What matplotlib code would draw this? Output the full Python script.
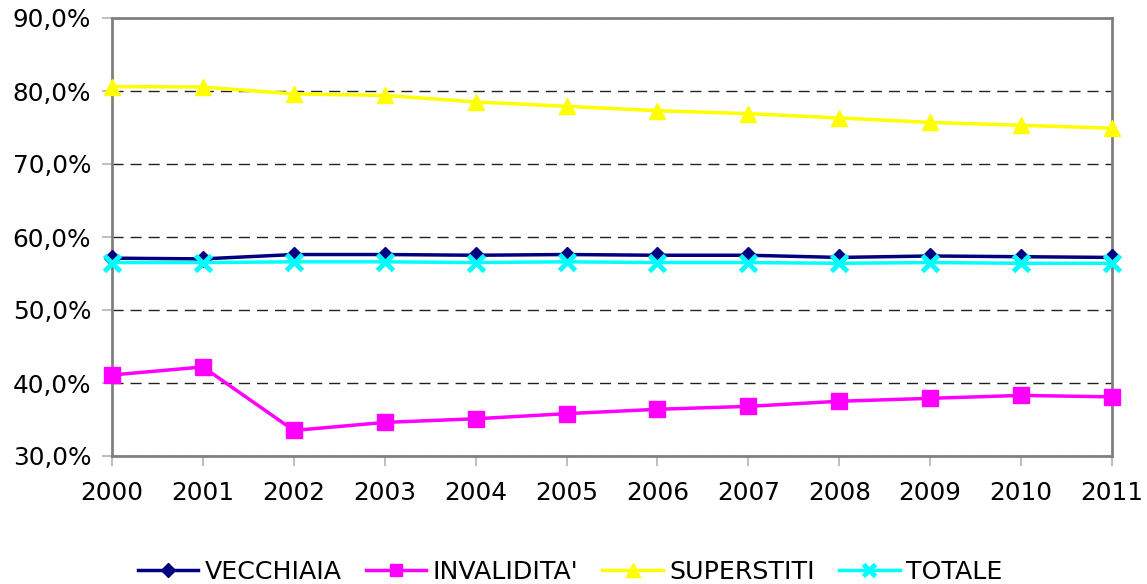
import matplotlib
matplotlib.use("Agg")
import matplotlib.pyplot as plt
from matplotlib.ticker import FuncFormatter, MultipleLocator

years = [2000, 2001, 2002, 2003, 2004, 2005, 2006, 2007, 2008, 2009, 2010, 2011]
vecchiaia = [57.1, 57.0, 57.6, 57.6, 57.5, 57.6, 57.5, 57.5, 57.2, 57.4, 57.3, 57.2]
invalidita = [41.1, 42.2, 33.5, 34.6, 35.1, 35.8, 36.4, 36.8, 37.5, 37.9, 38.3, 38.1]
superstiti = [80.6, 80.55, 79.6, 79.4, 78.5, 77.9, 77.3, 76.9, 76.3, 75.7, 75.3, 74.9]
totale = [56.5, 56.5, 56.6, 56.6, 56.5, 56.6, 56.5, 56.5, 56.4, 56.5, 56.4, 56.4]
labels = ["VECCHIAIA", "INVALIDITA'", "SUPERSTITI", "TOTALE"]

plt.rcParams['font.family'] = ['DejaVu Sans']
fig = plt.figure(figsize=(11.47, 5.84), dpi=100)
ax = fig.add_axes([112/1147, 1 - 456/584, 1000/1147, 438/584])

ax.plot(years, vecchiaia, color='#000080', lw=2.5, marker='D', ms=8.5, label=labels[0], clip_on=False, zorder=3)
ax.plot(years, invalidita, color='#FF00FF', lw=2.5, marker='s', ms=11, label=labels[1], clip_on=False, zorder=3)
ax.plot(years, superstiti, color='#FFFF00', lw=2.5, marker='^', ms=12, label=labels[2], clip_on=False, zorder=3)
ax.plot(years, totale, color='#00FFFF', lw=2.5, marker='x', ms=11, mew=3.5, label=labels[3], clip_on=False, zorder=4)

ax.set_xlim(2000, 2011)
ax.set_ylim(30, 90)
ax.set_xticks(years)
ax.set_xticklabels([str(y) for y in years])
ax.yaxis.set_major_locator(MultipleLocator(10))
ax.yaxis.set_major_formatter(FuncFormatter(lambda v, p: f"{v:.1f}%".replace('.', ',')))
ax.tick_params(axis='both', labelsize=17.8, colors='#c0c0c0', labelcolor='black', length=7, width=1.5)
ax.tick_params(axis='x', pad=11)
ax.tick_params(axis='y', pad=8)

ax.grid(axis='y', color='#222222', linestyle=(0, (8, 5)), linewidth=1)
ax.set_axisbelow(True)
for s in ax.spines.values():
    s.set_color('#808080')
    s.set_linewidth(2)

fig.legend(loc='center', bbox_to_anchor=(0.497, 1 - 572/584), ncol=4, frameon=False,
           fontsize=18.2, handlelength=2.4, columnspacing=0.95, handletextpad=0.25,
           markerscale=0.85)

fig.savefig('out.png', dpi=100, facecolor='white')
